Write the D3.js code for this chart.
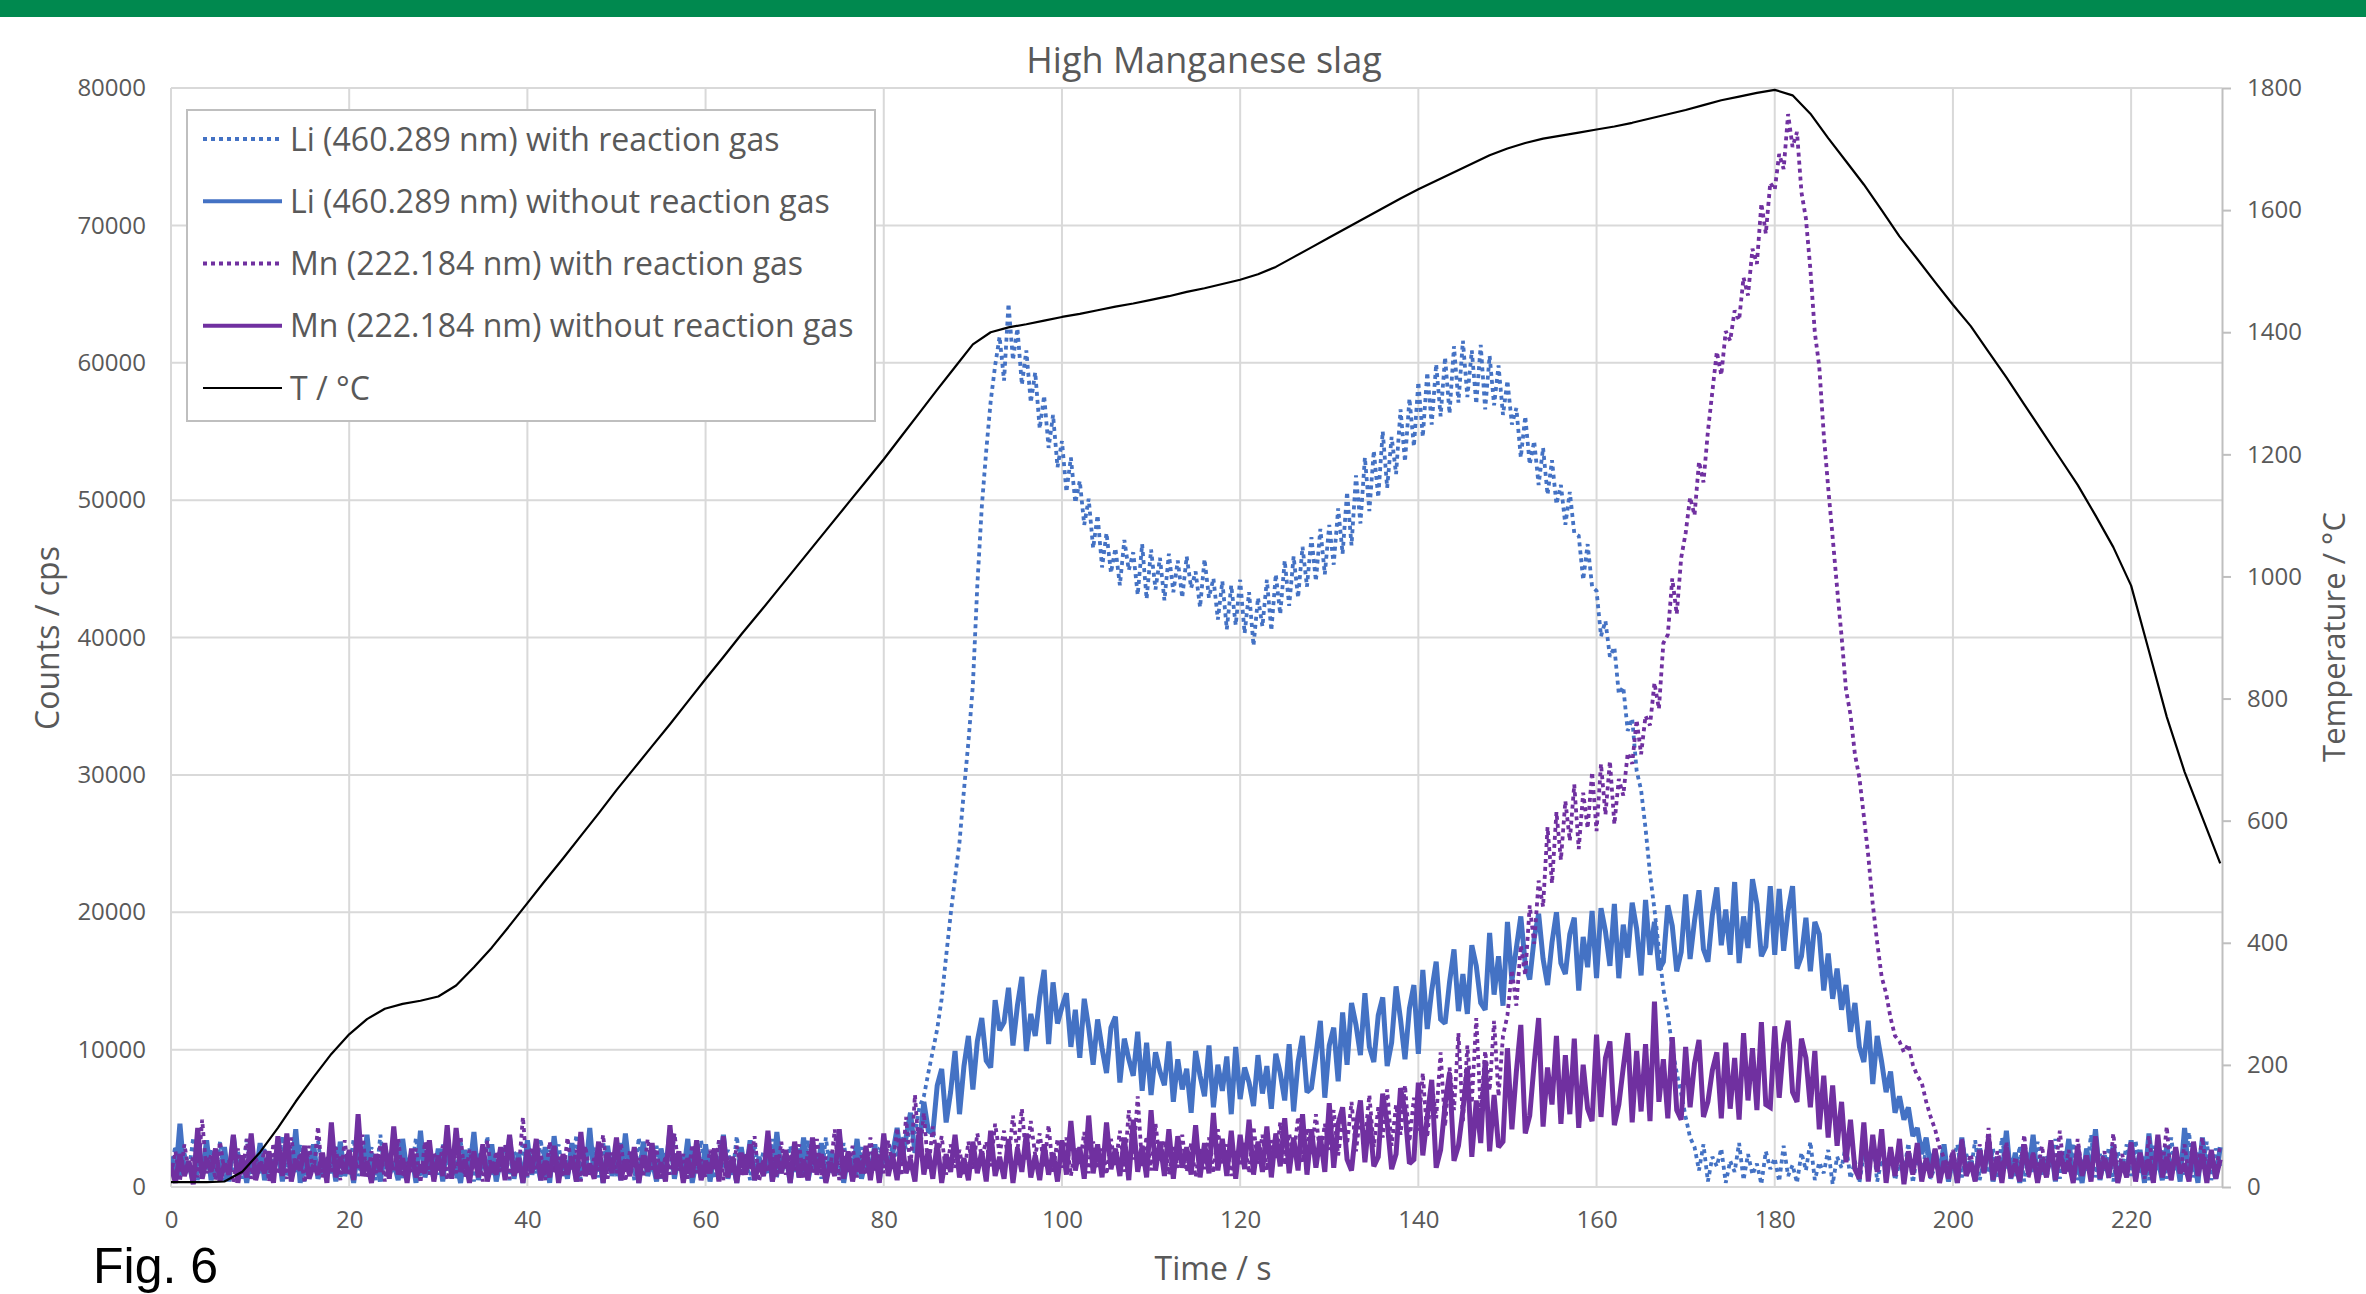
<!DOCTYPE html>
<html>
<head>
<meta charset="utf-8">
<script src="https://cdn.jsdelivr.net/npm/d3@7"></script>
<style>
  html, body { margin: 0; padding: 0; background: #ffffff; }
  svg { display: block; }
  text { font-family: "Open Sans", Lato, "Noto Sans", sans-serif; }
</style>
</head>
<body>
<svg id="chart" width="2366" height="1294"></svg>
<script>
// ---------------------------------------------------------------
// High Manganese slag – Li and Mn emission signals vs. temperature
// ---------------------------------------------------------------

const chartTitle = "High Manganese slag";
const xTitle = "Time / s";
const yTitle = "Counts / cps";
const y2Title = "Temperature / °C";
const figureLabel = "Fig. 6";

const seriesNames = [
  "Li (460.289 nm) with reaction gas",
  "Li (460.289 nm) without reaction gas",
  "Mn (222.184 nm) with reaction gas",
  "Mn (222.184 nm) without reaction gas",
  "T / °C"
];

const xTicks = [0, 20, 40, 60, 80, 100, 120, 140, 160, 180, 200, 220];
const countTicks = [0, 10000, 20000, 30000, 40000, 50000, 60000, 70000, 80000];
const tempTicks = [0, 200, 400, 600, 800, 1000, 1200, 1400, 1600, 1800];

const SAMPLE_STEP = 0.5;   // s between spectrometer readings
const TEMP_STEP = 2;       // s between thermocouple readings

// Li 460.289 nm, with reaction gas (counts, every 0.5 s from t = 0)
const liWithGas = [
  1400, 3000, 700, 2500, 1100, 3600, 500, 2000, 1300, 2800, 800, 3300, 400, 1800, 1200, 2700, 600, 3500, 900, 2200,
  1000, 2900, 500, 2400, 1500, 3700, 700, 2100, 1100, 3100, 400, 2600, 1300, 3400, 800, 1900, 1000, 3000, 600, 2300,
  1200, 3500, 800, 2000, 1400, 2900, 500, 3800, 900, 2500, 1100, 3200, 600, 2100, 1300, 3600, 700, 2700, 1000, 2400,
  900, 3100, 1200, 2200, 600, 3400, 1000, 2800, 400, 2500, 1400, 3700, 800, 2000, 1100, 3000, 500, 2600, 1300, 3300,
  700, 2300, 1000, 3500, 600, 2700, 1200, 3100, 800, 1900, 1300, 3800, 500, 2400, 1000, 2900, 700, 3300, 1100, 2200,
  800, 3200, 1300, 2600, 500, 3600, 1000, 2100, 1200, 3000, 600, 2500, 900, 3900, 1400, 2300, 700, 2800, 1100, 3400,
  1000, 2400, 600, 3300, 1300, 2700, 800, 3700, 1100, 2000, 500, 3100, 1200, 2600, 900, 3500, 700, 2200, 1400, 3000,
  1100, 2800, 700, 3400, 1200, 2300, 600, 3600, 1000, 2500, 900, 3200, 1300, 2100, 800, 2900, 1200, 3300, 1500, 2700,
  2400, 1600, 3100, 2200, 3600, 2800, 4700, 3900, 5800, 6600, 8300, 9900, 11500, 13700, 16800, 19800, 22500, 25100, 28900, 32400,
  36500, 43800, 49500, 53600, 57200, 59800, 61900, 58700, 64300, 60200, 62500, 58400, 60900, 57100, 59300, 55200, 57600, 53800, 56200, 52400,
  54300, 50600, 53100, 49800, 51400, 48200, 50100, 46500, 48900, 45100, 47600, 44700, 46500, 43800, 47100, 44900, 46200, 43100, 46800, 42800,
  46400, 43500, 45800, 42700, 46100, 43300, 45600, 42900, 45900, 43600, 44800, 42200, 45700, 42900, 44300, 41300, 44100, 40600, 43800, 40900,
  44200, 40300, 43300, 39400, 42900, 40800, 44200, 40500, 44600, 41700, 45600, 42300, 45900, 42900, 46600, 43700, 47300, 44100, 47900, 44600,
  48200, 45300, 49400, 46100, 50600, 46700, 51800, 48300, 53100, 49200, 53600, 50200, 55000, 50900, 54600, 51900, 56600, 52800, 57400, 53900,
  58600, 54600, 59300, 55500, 59900, 56100, 60400, 56300, 61200, 57100, 61600, 57500, 60900, 57000, 61300, 56600, 60500, 56900, 59800, 56200,
  58700, 55500, 56700, 53100, 56100, 52600, 54300, 51100, 53800, 50400, 52900, 49700, 51100, 48200, 50600, 47600, 47400, 44200, 46800, 43700,
  43400, 40100, 41200, 38600, 39300, 35900, 36400, 33200, 34100, 30300, 28900, 26100, 22800, 20200, 17300, 14400, 12600, 10100, 8300, 6800,
  5100, 3600, 2900, 1200, 3100, 400, 2200, 1500, 2800, 300, 1900, 1100, 3200, 500, 2400, 900, 1700, 200, 2600, 1300,
  2100, 400, 3000, 800, 1600, 300, 2500, 1200, 3300, 500, 1800, 1000, 2700, 200, 2200, 1400, 3100, 600, 1900, 300,
  2400, 900, 3500, 400, 2000, 1300, 2800, 500, 1700, 1100, 3200, 300, 2300, 800, 2900, 600, 1500, 1200, 2600, 400,
  1900, 3100, 700, 2400, 1200, 3400, 500, 2100, 1000, 2800, 600, 3600, 1300, 2200, 800, 3000, 400, 2500, 1100, 3300,
  900, 2300, 1400, 3500, 600, 2700, 1000, 3200, 500, 2000, 1200, 3800, 700, 2400, 1100, 2900, 400, 2600, 1300, 3100,
  800, 3400, 1000, 2200, 500, 3000, 1400, 2700, 600, 3600, 1100, 2300, 900, 4000, 700, 2500, 1200, 3300, 500, 2800,
  1500
];

// Li 460.289 nm, without reaction gas
const liWithoutGas = [
  2200, 600, 4600, 900, 1800, 300, 2700, 1000, 3400, 500, 1600, 800, 2900, 400, 3700, 1100, 2100, 300, 2500, 700,
  3200, 500, 1900, 1000, 2800, 400, 3600, 800, 4200, 300, 2300, 900, 3100, 600, 1700, 1200, 2600, 400, 3300, 800,
  2000, 300, 2900, 1100, 3800, 600, 2200, 400, 3000, 900, 1800, 500, 3500, 1000, 2400, 300, 4100, 700, 2100, 600,
  2800, 400, 3300, 900, 1900, 300, 2700, 1100, 4000, 500, 2300, 800, 3100, 400, 2000, 1000, 3600, 600, 2500, 300,
  3400, 900, 2100, 500, 2900, 300, 3700, 1000, 2200, 600, 3200, 400, 1800, 900, 4300, 700, 2400, 300, 3000, 800,
  2100, 500, 3900, 1000, 2600, 300, 3300, 800, 1900, 400, 2800, 1100, 4100, 600, 2300, 900, 3500, 300, 2000, 700,
  3100, 400, 2500, 1000, 3800, 600, 2000, 300, 2900, 900, 3400, 500, 2200, 800, 3000, 400, 4000, 1000, 2400, 300,
  2800, 700, 3600, 500, 2100, 1100, 3200, 400, 2600, 900, 3900, 300, 2300, 800, 3500, 600, 2000, 1000, 3100, 500,
  2900, 1200, 2400, 4300, 1800, 3600, 5400, 2500, 3200, 6200, 4100, 3900, 7400, 8600, 4700, 6900, 9900, 5300, 8800, 11000,
  7100, 10600, 12300, 9200, 8700, 13600, 11400, 12000, 14500, 10300, 13200, 15300, 9900, 12600, 11000, 13800, 15800, 10400, 14900, 11900,
  13100, 14100, 10200, 12900, 9400, 13700, 11600, 8900, 12200, 10100, 8300, 11600, 12400, 7600, 10800, 9300, 8100, 11300, 7000, 10500,
  6700, 9800, 8400, 7400, 10600, 6200, 9300, 7100, 8600, 5400, 9900, 8100, 6600, 10300, 5800, 8900, 7000, 9500, 5300, 10200,
  6400, 8700, 7600, 5900, 9600, 6800, 8800, 5700, 9700, 8300, 6300, 10400, 5500, 9100, 11000, 6900, 7200, 9600, 12100, 6500,
  10300, 11600, 7700, 12700, 8900, 13400, 11800, 9600, 14100, 10200, 9100, 12500, 13800, 8800, 10500, 14600, 12200, 9300, 13000, 14700,
  9700, 15800, 11500, 14300, 16400, 12200, 11900, 14900, 17300, 12800, 15500, 12600, 17600, 16100, 13400, 12900, 18500, 14000, 16800, 13200,
  19300, 15000, 17400, 19700, 16200, 15100, 18100, 19900, 16600, 14700, 17800, 20000, 16300, 15500, 18400, 19600, 14300, 18200, 16000, 20100,
  15200, 20300, 18600, 16100, 20600, 15200, 19100, 16700, 20700, 18800, 15400, 20900, 16900, 19300, 15800, 16400, 20500, 19000, 15700, 17100,
  21300, 16600, 19400, 21600, 17300, 16400, 19800, 21800, 17600, 20200, 16900, 22200, 16300, 19700, 17400, 22400, 20600, 16800, 17500, 21900,
  16900, 21700, 17200, 20100, 21900, 15900, 16800, 19600, 15700, 19300, 18400, 14300, 17000, 13700, 15900, 12900, 14700, 11300, 13400, 10200,
  9100, 12100, 7500, 11000, 9100, 6900, 8400, 5400, 6600, 4900, 5800, 3700, 4300, 2400, 3600, 1500, 2700, 900, 3100, 400,
  2400, 300, 3600, 900, 1900, 500, 2800, 1100, 3300, 400, 2100, 800, 4100, 600, 2500, 300, 2900, 1000, 3800, 500,
  2200, 800, 3000, 400, 2600, 1100, 3500, 600, 1900, 300, 2800, 900, 4200, 500, 2300, 700, 3100, 400, 2000, 1000,
  3400, 600, 2700, 300, 3900, 800, 2100, 500, 3000, 1000, 2500, 400, 4300, 700, 2200, 300, 3600, 900, 2400, 600,
  2900
];

// Mn 222.184 nm, with reaction gas
const mnWithGas = [
  900, 2600, 400, 3100, 1200, 2200, 700, 4900, 1000, 2400, 500, 3300, 1100, 1900, 300, 2800, 800, 3500, 600, 2100,
  1300, 2700, 400, 3200, 900, 2000, 600, 3600, 1200, 2500, 300, 3000, 1000, 4400, 700, 2300, 1100, 2900, 500, 3400,
  800, 2200, 1300, 3800, 600, 2600, 1000, 3100, 400, 2400, 1200, 3500, 700, 1900, 1100, 2800, 300, 3300, 900, 2500,
  1200, 3000, 500, 2300, 1000, 3700, 700, 2700, 1300, 2100, 400, 3400, 900, 2600, 1100, 3100, 600, 2000, 1000, 5100,
  800, 2900, 1200, 2400, 500, 3300, 1000, 2200, 700, 3600, 1300, 2700, 400, 3000, 900, 2100, 1200, 3800, 600, 2500,
  1000, 3200, 400, 2600, 1300, 2100, 700, 3500, 1100, 2800, 500, 2300, 900, 3900, 1200, 2400, 600, 3100, 1000, 2000,
  700, 2700, 1200, 3400, 500, 2200, 1000, 3000, 800, 2500, 1300, 3700, 400, 2100, 1100, 2900, 700, 3300, 900, 2400,
  1200, 3100, 600, 2600, 1000, 3500, 800, 2200, 1300, 4200, 500, 2700, 1100, 3000, 700, 2300, 900, 3600, 1200, 2500,
  1000, 3400, 1500, 4300, 800, 5100, 1300, 6700, 2100, 5400, 1200, 4400, 2000, 3700, 900, 3100, 1400, 2700, 800, 3300,
  1300, 3900, 2200, 3300, 1500, 4600, 2400, 4100, 1800, 5200, 2600, 5700, 2000, 4800, 2300, 3900, 1500, 4500, 1100, 3500,
  1400, 3600, 800, 2900, 1600, 4000, 1000, 3300, 1300, 2800, 900, 3500, 1500, 4100, 1100, 5600, 2000, 6600, 1500, 3700,
  1200, 4600, 1800, 3400, 900, 2900, 1400, 3800, 1100, 3200, 700, 2800, 1300, 3600, 1000, 4200, 1600, 3100, 800, 2700,
  1500, 3300, 1000, 4400, 1700, 3800, 1200, 3400, 2000, 4700, 1600, 3900, 2200, 5100, 1800, 4300, 2400, 5300, 2100, 4600,
  2700, 5600, 2300, 4900, 3100, 6200, 2600, 5300, 3400, 6700, 2900, 5800, 3600, 7100, 3000, 6000, 3800, 7400, 3300, 6500,
  4100, 8300, 3600, 7600, 5000, 9800, 4400, 8700, 5600, 11200, 4800, 10300, 6100, 12300, 5500, 9900, 7000, 12100, 6600, 11000,
  12500, 15800, 13200, 17600, 15400, 20500, 17700, 22300, 20400, 26200, 22100, 27300, 23800, 28100, 25200, 29300, 24600, 28700, 26100, 30200,
  25900, 30800, 27100, 31000, 26400, 29700, 28500, 31600, 30800, 34000, 31500, 34300, 33600, 36700, 34800, 39600, 40200, 44300, 41700, 45800,
  47600, 50200, 48900, 52800, 51300, 55000, 57900, 60800, 59100, 62300, 61600, 63800, 63100, 66200, 64900, 68300, 67200, 71600, 69400, 73100,
  72600, 75200, 74100, 78100, 75700, 76800, 72400, 70500, 66800, 62200, 59700, 54800, 50900, 47300, 43600, 40100, 36200, 34400, 31500, 29800,
  27000, 24100, 20600, 17800, 15300, 14100, 12300, 11000, 10600, 9800, 10400, 8900, 8100, 7600, 6200, 5100, 4200, 2900, 2100, 1500,
  2700, 900, 3600, 1300, 2400, 600, 3100, 1100, 4300, 800, 2600, 1400, 3300, 500, 2200, 1000, 3800, 700, 2500, 1200,
  3000, 600, 2300, 1300, 4100, 900, 2700, 400, 3500, 1100, 2100, 800, 3200, 1400, 2600, 500, 3900, 1000, 2400, 700,
  3400, 1200, 2200, 600, 3700, 900, 2800, 1300, 4400, 500, 2500, 1000, 3100, 700, 2300, 1400, 3600, 800, 2700, 1100,
  3000
];

// Mn 222.184 nm, without reaction gas
const mnWithoutGas = [
  1500, 300, 2400, 800, 1900, 200, 4300, 600, 2100, 1100, 2800, 400, 1700, 900, 3800, 300, 2300, 700, 3900, 500,
  1800, 1000, 2600, 300, 3700, 800, 3900, 400, 2000, 1200, 3000, 600, 1600, 900, 2500, 300, 4700, 700, 2200, 1000,
  2700, 500, 5300, 800, 1900, 300, 2400, 1100, 3200, 600, 4400, 900, 2100, 300, 2800, 700, 1600, 1000, 3400, 400,
  2300, 800, 4500, 600, 4300, 1100, 2000, 300, 2600, 700, 3100, 400, 1800, 900, 2900, 500, 3800, 800, 2100, 300,
  2700, 1000, 3500, 500, 1900, 700, 3000, 300, 2400, 900, 2200, 400, 4000, 800, 1700, 600, 3300, 300, 2500, 1000,
  3600, 500, 2000, 800, 2900, 300, 2300, 1100, 3200, 600, 1800, 400, 4500, 900, 2600, 300, 2100, 700, 3400, 500,
  1900, 1000, 2800, 400, 3700, 700, 2200, 300, 2500, 900, 3100, 500, 1700, 800, 4100, 400, 2300, 1000, 2700, 300,
  3300, 700, 2000, 500, 3600, 900, 2400, 300, 1800, 800, 4200, 600, 2600, 400, 2100, 1000, 3000, 500, 2800, 300,
  3900, 800, 2300, 500, 3500, 1000, 2000, 400, 4300, 900, 2700, 600, 3200, 300, 2400, 1100, 3800, 700, 2100, 500,
  3300, 1000, 2600, 400, 4100, 800, 2200, 600, 3500, 300, 2800, 1100, 3900, 700, 2300, 500, 3100, 900, 2500, 400,
  3400, 900, 4800, 1200, 2900, 600, 5200, 1000, 3100, 700, 4700, 1300, 2800, 800, 3600, 500, 4900, 1100, 3000, 700,
  5600, 1200, 3300, 800, 4200, 600, 3700, 1400, 2900, 900, 4500, 700, 3200, 1000, 5400, 1200, 3500, 800, 4100, 600,
  3800, 1300, 4900, 900, 3300, 1100, 4400, 700, 3900, 1500, 5000, 1000, 3600, 1200, 5300, 900, 4200, 1400, 3700, 1100,
  6100, 1400, 4600, 5800, 2000, 1200, 4300, 6300, 1800, 5200, 1500, 2200, 6800, 4700, 1300, 2400, 7200, 5500, 1700, 2000,
  7600, 2300, 5100, 7800, 1400, 2700, 6000, 8300, 1900, 3000, 5600, 8700, 2200, 6300, 3200, 9200, 2600, 6700, 2900, 3300,
  10100, 4200, 8400, 11800, 3900, 5200, 9000, 12300, 4400, 8700, 6000, 11000, 4600, 9600, 5300, 10800, 4300, 8900, 5700, 4800,
  11100, 5100, 9400, 10600, 4500, 6000, 8700, 11200, 4700, 9900, 5500, 10400, 4800, 13500, 6200, 9300, 5000, 10900, 5600, 4900,
  10200, 5800, 9000, 10700, 5100, 6200, 8500, 9800, 5000, 10500, 5700, 9400, 4900, 11200, 6300, 10100, 5600, 12000, 6000, 5800,
  11700, 6500, 10400, 12100, 6900, 6200, 10800, 9400, 5800, 9900, 4200, 8100, 3600, 7400, 3000, 6200, 1800, 4900, 1300, 600,
  4700, 400, 3800, 1100, 4200, 300, 2900, 800, 3500, 200, 2600, 900, 3200, 400, 2100, 700, 2800, 300, 1900, 600,
  2500, 300, 3300, 800, 1800, 400, 2700, 1000, 3600, 500, 2200, 300, 2900, 800, 1700, 400, 3100, 900, 2400, 300,
  2000, 700, 3400, 500, 2600, 1000, 1900, 300, 3000, 800, 2300, 400, 3700, 600, 2100, 900, 2800, 300, 1800, 700,
  3200, 400, 2500, 900, 2000, 300, 3800, 700, 2200, 500, 2900, 1000, 1700, 400, 3300, 800, 2400, 300, 2700, 600,
  2000
];

// Furnace temperature (°C, every 2 s from t = 0)
const temperature = [
  8, 8, 8, 9, 25, 57, 97, 140, 180, 218,
  250, 275, 292, 300, 305, 312, 330, 360, 392, 428,
  465, 502, 538, 575, 612, 650, 686, 722, 758, 795,
  832, 868, 905, 940, 976, 1012, 1048, 1084, 1120, 1156,
  1192, 1230, 1268, 1306, 1343, 1380, 1400, 1408, 1413, 1419,
  1425, 1430, 1436, 1442, 1447, 1453, 1459, 1466, 1472, 1479,
  1486, 1495, 1507, 1523, 1539, 1555, 1571, 1587, 1603, 1619,
  1634, 1648, 1662, 1676, 1690, 1701, 1710, 1717, 1722, 1727,
  1732, 1737, 1743, 1750, 1757, 1764, 1772, 1780, 1786, 1792,
  1797, 1788, 1758, 1718, 1680, 1642, 1600, 1557, 1520, 1482,
  1445, 1410, 1368, 1326, 1282, 1238, 1194, 1150, 1100, 1048,
  985, 878, 770, 680, 605, 530
];

// ---------------------------------------------------------------
const W = 2366, H = 1294;
const plot = { left: 171, right: 2222, top: 88, bottom: 1187 };
const textGrey = "#595959";
const gridGrey = "#d9d9d9";
const axisGrey = "#bfbfbf";
const blue = "#4472c4";
const purple = "#7030a0";
const FONT = "'Open Sans', Lato, sans-serif";

const svg = d3.select("#chart");

const x = d3.scaleLinear().domain([0, 230.2]).range([plot.left, plot.right]);
const yCounts = d3.scaleLinear().domain([0, 80000]).range([plot.bottom, plot.top]);
const yTemp = d3.scaleLinear().domain([0, 1800]).range([plot.bottom, plot.top]);

// header band
svg.append("rect")
  .attr("x", 0).attr("y", 0).attr("width", W).attr("height", 17)
  .attr("fill", "#00894f");

// gridlines
const grid = svg.append("g").attr("class", "grid");
grid.selectAll("line.h")
  .data(countTicks.filter(d => d > 0))
  .join("line").attr("class", "h")
  .attr("x1", plot.left).attr("x2", plot.right)
  .attr("y1", d => yCounts(d)).attr("y2", d => yCounts(d))
  .attr("stroke", gridGrey).attr("stroke-width", 2);
grid.selectAll("line.v")
  .data(xTicks)
  .join("line").attr("class", "v")
  .attr("x1", d => x(d)).attr("x2", d => x(d))
  .attr("y1", plot.top).attr("y2", plot.bottom)
  .attr("stroke", gridGrey).attr("stroke-width", 2);

// bottom axis line
svg.append("line")
  .attr("x1", plot.left).attr("x2", plot.right)
  .attr("y1", plot.bottom).attr("y2", plot.bottom)
  .attr("stroke", gridGrey).attr("stroke-width", 2);

// axes (labels via d3 axis generators)
function styleAxisText(g, size) {
  g.selectAll("text")
    .attr("fill", textGrey)
    .style("font-size", size + "px")
    .style("font-family", FONT);
}

const xAxis = d3.axisBottom(x).tickValues(xTicks).tickSize(0).tickPadding(24)
  .tickFormat(d3.format("d"));
const gx = svg.append("g").attr("transform", `translate(0,${plot.bottom})`).call(xAxis);
gx.select(".domain").remove();
styleAxisText(gx, 24);

const yAxis = d3.axisLeft(yCounts).tickValues(countTicks).tickSize(0).tickPadding(25)
  .tickFormat(d3.format("d"));
const gy = svg.append("g").attr("transform", `translate(${plot.left},0)`).call(yAxis);
gy.select(".domain").remove();
styleAxisText(gy, 24);

const y2Axis = d3.axisRight(yTemp).tickValues(tempTicks).tickSize(9).tickSizeOuter(0).tickPadding(16)
  .tickFormat(d3.format("d"));
const gy2 = svg.append("g").attr("transform", `translate(${plot.right},0)`).call(y2Axis);
gy2.select(".domain").attr("stroke", axisGrey).attr("stroke-width", 2);
gy2.selectAll(".tick line").attr("stroke", axisGrey).attr("stroke-width", 2);
styleAxisText(gy2, 24);

// series
svg.append("defs").append("clipPath").attr("id", "plotClip")
  .append("rect").attr("x", plot.left).attr("y", plot.top - 4)
  .attr("width", plot.right - plot.left + 2).attr("height", plot.bottom - plot.top + 6);

const sampleTime = d3.range(liWithGas.length).map(i => i * SAMPLE_STEP);
const tempTime = d3.range(temperature.length).map(i => i * TEMP_STEP);

const countLine = d3.line()
  .x((d, i) => x(sampleTime[i]))
  .y(d => yCounts(d));
const tempLine = d3.line()
  .x((d, i) => x(tempTime[i]))
  .y(d => yTemp(d));

const seriesStyles = [
  { data: liWithGas, color: blue, width: 3.8, dash: "4 4" },
  { data: liWithoutGas, color: blue, width: 5, dash: null },
  { data: mnWithGas, color: purple, width: 3.8, dash: "4 4" },
  { data: mnWithoutGas, color: purple, width: 5, dash: null }
];

const gSeries = svg.append("g").attr("clip-path", "url(#plotClip)");
seriesStyles.forEach(s => {
  gSeries.append("path")
    .datum(s.data)
    .attr("d", countLine)
    .attr("fill", "none")
    .attr("stroke", s.color)
    .attr("stroke-width", s.width)
    .attr("stroke-linejoin", "miter")
    .attr("stroke-miterlimit", 2)
    .attr("stroke-dasharray", s.dash);
});
gSeries.append("path")
  .datum(temperature)
  .attr("d", tempLine)
  .attr("fill", "none")
  .attr("stroke", "#000000")
  .attr("stroke-width", 2.2)
  .attr("stroke-linejoin", "round");

// titles
svg.append("text")
  .attr("x", 1204).attr("y", 73)
  .attr("text-anchor", "middle")
  .attr("fill", textGrey)
  .style("font-size", "36px")
  .text(chartTitle);

svg.append("text")
  .attr("x", 1213).attr("y", 1280)
  .attr("text-anchor", "middle")
  .attr("fill", textGrey)
  .style("font-size", "32px")
  .text(xTitle);

svg.append("text")
  .attr("transform", "translate(48,638) rotate(-90)")
  .attr("text-anchor", "middle")
  .attr("dy", "0.35em")
  .attr("fill", textGrey)
  .style("font-size", "32px")
  .text(yTitle);

svg.append("text")
  .attr("transform", "translate(2334,637) rotate(-90)")
  .attr("text-anchor", "middle")
  .attr("dy", "0.35em")
  .attr("fill", textGrey)
  .style("font-size", "31px")
  .text(y2Title);

svg.append("text")
  .attr("x", 93).attr("y", 1283)
  .attr("fill", "#000000")
  .style("font-family", "'Liberation Sans', Arial, sans-serif")
  .style("font-size", "50px")
  .text(figureLabel);

// legend
const legend = svg.append("g");
legend.append("rect")
  .attr("x", 187).attr("y", 110).attr("width", 688).attr("height", 311)
  .attr("fill", "#ffffff").attr("stroke", axisGrey).attr("stroke-width", 2);

const legendItems = seriesStyles.map((s, i) => ({ name: seriesNames[i], color: s.color, width: 3.8, dash: s.dash }))
  .concat([{ name: seriesNames[4], color: "#000000", width: 2.2, dash: null }]);

const rowY = d3.scalePoint().domain(d3.range(legendItems.length)).range([139, 388]);

const rows = legend.selectAll("g.row").data(legendItems).join("g")
  .attr("class", "row")
  .attr("transform", (d, i) => `translate(0,${rowY(i)})`);
rows.append("line")
  .attr("x1", 203).attr("x2", 282).attr("y1", 0).attr("y2", 0)
  .attr("stroke", d => d.color)
  .attr("stroke-width", d => d.width)
  .attr("stroke-dasharray", d => d.dash);
rows.append("text")
  .attr("x", 290).attr("y", 0).attr("dy", "0.36em")
  .attr("fill", textGrey)
  .style("font-size", "32px")
  .text(d => d.name);
</script>
</body>
</html>
